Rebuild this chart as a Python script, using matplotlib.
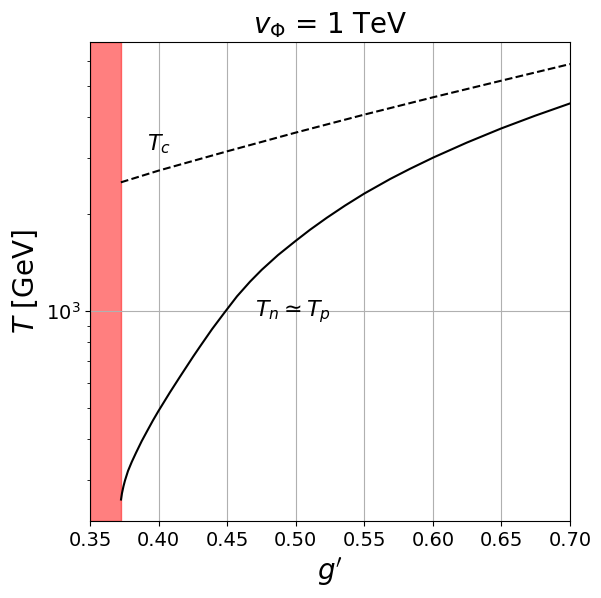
import numpy as np
import matplotlib.pyplot as plt

# values
g_nucl = [0.3726, 0.3733, 0.3744, 0.3755, 0.3777, 0.3804, 0.3835, 0.3877, 0.3916,
          0.3959, 0.3998, 0.4083, 0.4156, 0.4253, 0.4302, 0.4390, 0.4484, 0.4572,
          0.4667, 0.4752, 0.4871, 0.5000, 0.5104, 0.5226, 0.5359, 0.5500, 0.5688,
          0.5833, 0.6003, 0.6247, 0.6497, 0.6745, 0.7000]
T_nucl = [260, 272, 286, 298, 319, 340, 363, 395, 424,
          458, 489, 560, 626, 724, 777, 880, 995, 1113,
          1236, 1345, 1495, 1655, 1791, 1951, 2129, 2321, 2575,
          2770, 3003, 3341, 3696, 4050, 4423]

g_crit = [0.3725, 0.40, 0.45, 0.50, 0.55, 0.60, 0.65, 0.70]
T_crit = [2515, 2735, 3140, 3590, 4083, 4620, 5206, 5862]

g_excluded = 0.3725

fig, ax = plt.subplots(figsize=(6.01, 5.98), dpi=100)
fig.subplots_adjust(left=0.1498, right=0.9484, top=0.9303, bottom=0.1288)

ax.axvspan(0.35, g_excluded, color='red', alpha=0.5)
ax.plot(g_crit, T_crit, 'k--', lw=1.5)
ax.plot(g_nucl, T_nucl, 'k-', lw=1.5)

ax.set_yscale('log')
ax.set_xlim(0.35, 0.70)
ax.set_ylim(223, 6880)
ax.grid(True)

ax.text(0.3915, 3300, r'$T_c$', fontsize=16, ha='left', va='center')
ax.text(0.4705, 1000, r'$T_n \simeq T_p$', fontsize=16, ha='left', va='center')

ax.set_title(r'$v_\Phi$ = 1 TeV', fontsize=20)
ax.set_xlabel(r"$g'$", fontsize=20)
ax.set_ylabel(r'$T$ [GeV]', fontsize=20)
ax.tick_params(axis='both', which='major', labelsize=14)

plt.savefig('out.png')
